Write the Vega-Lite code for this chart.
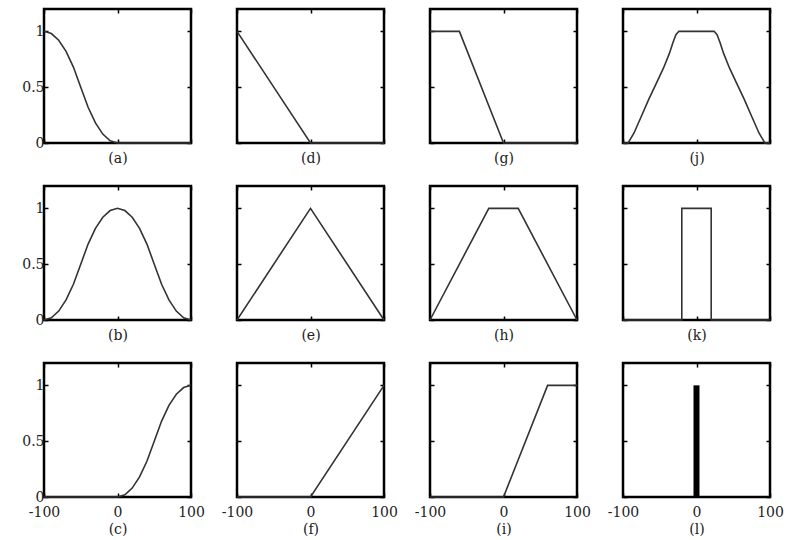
{
  "$schema": "https://vega.github.io/schema/vega-lite/v6.json",
  "background": "white",
  "padding": {"left": 20, "top": 7, "right": 0, "bottom": 5},
  "datasets": {
    "mf": [
      {"p": "a", "x": -100, "y": 1}, {"p": "a", "x": -90, "y": 0.98}, {"p": "a", "x": -80, "y": 0.92}, {"p": "a", "x": -70, "y": 0.82}, {"p": "a", "x": -60, "y": 0.68}, {"p": "a", "x": -50, "y": 0.5}, {"p": "a", "x": -40, "y": 0.32}, {"p": "a", "x": -30, "y": 0.18}, {"p": "a", "x": -20, "y": 0.08}, {"p": "a", "x": -10, "y": 0.02}, {"p": "a", "x": 0, "y": 0}, {"p": "a", "x": 100, "y": 0},
      {"p": "b", "x": -100, "y": 0}, {"p": "b", "x": -90, "y": 0.02}, {"p": "b", "x": -80, "y": 0.08}, {"p": "b", "x": -70, "y": 0.18}, {"p": "b", "x": -60, "y": 0.32}, {"p": "b", "x": -50, "y": 0.5}, {"p": "b", "x": -40, "y": 0.68}, {"p": "b", "x": -30, "y": 0.82}, {"p": "b", "x": -20, "y": 0.92}, {"p": "b", "x": -10, "y": 0.98}, {"p": "b", "x": 0, "y": 1}, {"p": "b", "x": 10, "y": 0.98}, {"p": "b", "x": 20, "y": 0.92}, {"p": "b", "x": 30, "y": 0.82}, {"p": "b", "x": 40, "y": 0.68}, {"p": "b", "x": 50, "y": 0.5}, {"p": "b", "x": 60, "y": 0.32}, {"p": "b", "x": 70, "y": 0.18}, {"p": "b", "x": 80, "y": 0.08}, {"p": "b", "x": 90, "y": 0.02}, {"p": "b", "x": 100, "y": 0},
      {"p": "c", "x": -100, "y": 0}, {"p": "c", "x": 0, "y": 0}, {"p": "c", "x": 10, "y": 0.02}, {"p": "c", "x": 20, "y": 0.08}, {"p": "c", "x": 30, "y": 0.18}, {"p": "c", "x": 40, "y": 0.32}, {"p": "c", "x": 50, "y": 0.5}, {"p": "c", "x": 60, "y": 0.68}, {"p": "c", "x": 70, "y": 0.82}, {"p": "c", "x": 80, "y": 0.92}, {"p": "c", "x": 90, "y": 0.98}, {"p": "c", "x": 100, "y": 1},
      {"p": "d", "x": -100, "y": 1}, {"p": "d", "x": 0, "y": 0}, {"p": "d", "x": 100, "y": 0},
      {"p": "e", "x": -100, "y": 0}, {"p": "e", "x": 0, "y": 1}, {"p": "e", "x": 100, "y": 0},
      {"p": "f", "x": -100, "y": 0}, {"p": "f", "x": 0, "y": 0}, {"p": "f", "x": 100, "y": 1},
      {"p": "g", "x": -100, "y": 1}, {"p": "g", "x": -60, "y": 1}, {"p": "g", "x": 0, "y": 0}, {"p": "g", "x": 100, "y": 0},
      {"p": "h", "x": -100, "y": 0}, {"p": "h", "x": -20, "y": 1}, {"p": "h", "x": 20, "y": 1}, {"p": "h", "x": 100, "y": 0},
      {"p": "i", "x": -100, "y": 0}, {"p": "i", "x": 0, "y": 0}, {"p": "i", "x": 60, "y": 1}, {"p": "i", "x": 100, "y": 1},
      {"p": "j", "x": -100, "y": 0}, {"p": "j", "x": -93, "y": 0}, {"p": "j", "x": -85, "y": 0.09}, {"p": "j", "x": -75, "y": 0.24}, {"p": "j", "x": -65, "y": 0.39}, {"p": "j", "x": -55, "y": 0.53}, {"p": "j", "x": -45, "y": 0.67}, {"p": "j", "x": -37, "y": 0.8}, {"p": "j", "x": -32, "y": 0.9}, {"p": "j", "x": -28, "y": 0.97}, {"p": "j", "x": -24, "y": 1}, {"p": "j", "x": 24, "y": 1}, {"p": "j", "x": 28, "y": 0.97}, {"p": "j", "x": 32, "y": 0.9}, {"p": "j", "x": 37, "y": 0.8}, {"p": "j", "x": 45, "y": 0.67}, {"p": "j", "x": 55, "y": 0.53}, {"p": "j", "x": 65, "y": 0.39}, {"p": "j", "x": 75, "y": 0.24}, {"p": "j", "x": 85, "y": 0.09}, {"p": "j", "x": 93, "y": 0}, {"p": "j", "x": 100, "y": 0},
      {"p": "k", "x": -100, "y": 0}, {"p": "k", "x": -20, "y": 0}, {"p": "k", "x": -20, "y": 1}, {"p": "k", "x": 20, "y": 1}, {"p": "k", "x": 20, "y": 0}, {"p": "k", "x": 100, "y": 0},
      {"p": "l", "x": 0, "y": 0}, {"p": "l", "x": 0, "y": 1}
    ]
  },
  "data": {"name": "mf"},
  "columns": 4,
  "spacing": {"row": 43, "column": 46},
  "bounds": "flush",
  "concat": [
    {"width": 147, "height": 134, "transform": [{"filter": "datum.p == 'a'"}],
     "layer": [
      {"mark": {"type": "line", "color": "#333", "strokeWidth": 1.6},
       "encoding": {
        "x": {"field": "x", "type": "quantitative", "scale": {"domain": [-100, 100], "nice": false}, "axis": {"orient": "bottom", "values": [-100, 0, 100], "labels": false, "title": "(a)"}},
        "y": {"field": "y", "type": "quantitative", "scale": {"domain": [0, 1.2], "nice": false}, "axis": {"orient": "left", "values": [0, 0.5, 1], "labels": true, "title": null}}}},
      {"mark": {"type": "line", "opacity": 0},
       "encoding": {
        "x": {"field": "x", "type": "quantitative", "scale": {"domain": [-100, 100], "nice": false}, "axis": {"orient": "top", "values": [-100, 0, 100], "labels": false, "title": null}},
        "y": {"field": "y", "type": "quantitative", "scale": {"domain": [0, 1.2], "nice": false}, "axis": {"orient": "right", "values": [0, 0.5, 1], "labels": false, "title": null}}}}],
     "resolve": {"axis": {"x": "independent", "y": "independent"}}},
    {"width": 147, "height": 134, "transform": [{"filter": "datum.p == 'd'"}],
     "layer": [
      {"mark": {"type": "line", "color": "#333", "strokeWidth": 1.6},
       "encoding": {
        "x": {"field": "x", "type": "quantitative", "scale": {"domain": [-100, 100], "nice": false}, "axis": {"orient": "bottom", "values": [-100, 0, 100], "labels": false, "title": "(d)"}},
        "y": {"field": "y", "type": "quantitative", "scale": {"domain": [0, 1.2], "nice": false}, "axis": {"orient": "left", "values": [0, 0.5, 1], "labels": false, "title": null}}}},
      {"mark": {"type": "line", "opacity": 0},
       "encoding": {
        "x": {"field": "x", "type": "quantitative", "scale": {"domain": [-100, 100], "nice": false}, "axis": {"orient": "top", "values": [-100, 0, 100], "labels": false, "title": null}},
        "y": {"field": "y", "type": "quantitative", "scale": {"domain": [0, 1.2], "nice": false}, "axis": {"orient": "right", "values": [0, 0.5, 1], "labels": false, "title": null}}}}],
     "resolve": {"axis": {"x": "independent", "y": "independent"}}},
    {"width": 147, "height": 134, "transform": [{"filter": "datum.p == 'g'"}],
     "layer": [
      {"mark": {"type": "line", "color": "#333", "strokeWidth": 1.6},
       "encoding": {
        "x": {"field": "x", "type": "quantitative", "scale": {"domain": [-100, 100], "nice": false}, "axis": {"orient": "bottom", "values": [-100, 0, 100], "labels": false, "title": "(g)"}},
        "y": {"field": "y", "type": "quantitative", "scale": {"domain": [0, 1.2], "nice": false}, "axis": {"orient": "left", "values": [0, 0.5, 1], "labels": false, "title": null}}}},
      {"mark": {"type": "line", "opacity": 0},
       "encoding": {
        "x": {"field": "x", "type": "quantitative", "scale": {"domain": [-100, 100], "nice": false}, "axis": {"orient": "top", "values": [-100, 0, 100], "labels": false, "title": null}},
        "y": {"field": "y", "type": "quantitative", "scale": {"domain": [0, 1.2], "nice": false}, "axis": {"orient": "right", "values": [0, 0.5, 1], "labels": false, "title": null}}}}],
     "resolve": {"axis": {"x": "independent", "y": "independent"}}},
    {"width": 147, "height": 134, "transform": [{"filter": "datum.p == 'j'"}],
     "layer": [
      {"mark": {"type": "line", "color": "#333", "strokeWidth": 1.6},
       "encoding": {
        "x": {"field": "x", "type": "quantitative", "scale": {"domain": [-100, 100], "nice": false}, "axis": {"orient": "bottom", "values": [-100, 0, 100], "labels": false, "title": "(j)"}},
        "y": {"field": "y", "type": "quantitative", "scale": {"domain": [0, 1.2], "nice": false}, "axis": {"orient": "left", "values": [0, 0.5, 1], "labels": false, "title": null}}}},
      {"mark": {"type": "line", "opacity": 0},
       "encoding": {
        "x": {"field": "x", "type": "quantitative", "scale": {"domain": [-100, 100], "nice": false}, "axis": {"orient": "top", "values": [-100, 0, 100], "labels": false, "title": null}},
        "y": {"field": "y", "type": "quantitative", "scale": {"domain": [0, 1.2], "nice": false}, "axis": {"orient": "right", "values": [0, 0.5, 1], "labels": false, "title": null}}}}],
     "resolve": {"axis": {"x": "independent", "y": "independent"}}},
    {"width": 147, "height": 134, "transform": [{"filter": "datum.p == 'b'"}],
     "layer": [
      {"mark": {"type": "line", "color": "#333", "strokeWidth": 1.6},
       "encoding": {
        "x": {"field": "x", "type": "quantitative", "scale": {"domain": [-100, 100], "nice": false}, "axis": {"orient": "bottom", "values": [-100, 0, 100], "labels": false, "title": "(b)"}},
        "y": {"field": "y", "type": "quantitative", "scale": {"domain": [0, 1.2], "nice": false}, "axis": {"orient": "left", "values": [0, 0.5, 1], "labels": true, "title": null}}}},
      {"mark": {"type": "line", "opacity": 0},
       "encoding": {
        "x": {"field": "x", "type": "quantitative", "scale": {"domain": [-100, 100], "nice": false}, "axis": {"orient": "top", "values": [-100, 0, 100], "labels": false, "title": null}},
        "y": {"field": "y", "type": "quantitative", "scale": {"domain": [0, 1.2], "nice": false}, "axis": {"orient": "right", "values": [0, 0.5, 1], "labels": false, "title": null}}}}],
     "resolve": {"axis": {"x": "independent", "y": "independent"}}},
    {"width": 147, "height": 134, "transform": [{"filter": "datum.p == 'e'"}],
     "layer": [
      {"mark": {"type": "line", "color": "#333", "strokeWidth": 1.6},
       "encoding": {
        "x": {"field": "x", "type": "quantitative", "scale": {"domain": [-100, 100], "nice": false}, "axis": {"orient": "bottom", "values": [-100, 0, 100], "labels": false, "title": "(e)"}},
        "y": {"field": "y", "type": "quantitative", "scale": {"domain": [0, 1.2], "nice": false}, "axis": {"orient": "left", "values": [0, 0.5, 1], "labels": false, "title": null}}}},
      {"mark": {"type": "line", "opacity": 0},
       "encoding": {
        "x": {"field": "x", "type": "quantitative", "scale": {"domain": [-100, 100], "nice": false}, "axis": {"orient": "top", "values": [-100, 0, 100], "labels": false, "title": null}},
        "y": {"field": "y", "type": "quantitative", "scale": {"domain": [0, 1.2], "nice": false}, "axis": {"orient": "right", "values": [0, 0.5, 1], "labels": false, "title": null}}}}],
     "resolve": {"axis": {"x": "independent", "y": "independent"}}},
    {"width": 147, "height": 134, "transform": [{"filter": "datum.p == 'h'"}],
     "layer": [
      {"mark": {"type": "line", "color": "#333", "strokeWidth": 1.6},
       "encoding": {
        "x": {"field": "x", "type": "quantitative", "scale": {"domain": [-100, 100], "nice": false}, "axis": {"orient": "bottom", "values": [-100, 0, 100], "labels": false, "title": "(h)"}},
        "y": {"field": "y", "type": "quantitative", "scale": {"domain": [0, 1.2], "nice": false}, "axis": {"orient": "left", "values": [0, 0.5, 1], "labels": false, "title": null}}}},
      {"mark": {"type": "line", "opacity": 0},
       "encoding": {
        "x": {"field": "x", "type": "quantitative", "scale": {"domain": [-100, 100], "nice": false}, "axis": {"orient": "top", "values": [-100, 0, 100], "labels": false, "title": null}},
        "y": {"field": "y", "type": "quantitative", "scale": {"domain": [0, 1.2], "nice": false}, "axis": {"orient": "right", "values": [0, 0.5, 1], "labels": false, "title": null}}}}],
     "resolve": {"axis": {"x": "independent", "y": "independent"}}},
    {"width": 147, "height": 134, "transform": [{"filter": "datum.p == 'k'"}],
     "layer": [
      {"mark": {"type": "line", "color": "#333", "strokeWidth": 1.6},
       "encoding": {
        "x": {"field": "x", "type": "quantitative", "scale": {"domain": [-100, 100], "nice": false}, "axis": {"orient": "bottom", "values": [-100, 0, 100], "labels": false, "title": "(k)"}},
        "y": {"field": "y", "type": "quantitative", "scale": {"domain": [0, 1.2], "nice": false}, "axis": {"orient": "left", "values": [0, 0.5, 1], "labels": false, "title": null}}}},
      {"mark": {"type": "line", "opacity": 0},
       "encoding": {
        "x": {"field": "x", "type": "quantitative", "scale": {"domain": [-100, 100], "nice": false}, "axis": {"orient": "top", "values": [-100, 0, 100], "labels": false, "title": null}},
        "y": {"field": "y", "type": "quantitative", "scale": {"domain": [0, 1.2], "nice": false}, "axis": {"orient": "right", "values": [0, 0.5, 1], "labels": false, "title": null}}}}],
     "resolve": {"axis": {"x": "independent", "y": "independent"}}},
    {"width": 147, "height": 134, "transform": [{"filter": "datum.p == 'c'"}],
     "layer": [
      {"mark": {"type": "line", "color": "#333", "strokeWidth": 1.6},
       "encoding": {
        "x": {"field": "x", "type": "quantitative", "scale": {"domain": [-100, 100], "nice": false}, "axis": {"orient": "bottom", "values": [-100, 0, 100], "labels": true, "labelPadding": 12, "title": "(c)", "titlePadding": 3}},
        "y": {"field": "y", "type": "quantitative", "scale": {"domain": [0, 1.2], "nice": false}, "axis": {"orient": "left", "values": [0, 0.5, 1], "labels": true, "title": null}}}},
      {"mark": {"type": "line", "opacity": 0},
       "encoding": {
        "x": {"field": "x", "type": "quantitative", "scale": {"domain": [-100, 100], "nice": false}, "axis": {"orient": "top", "values": [-100, 0, 100], "labels": false, "title": null}},
        "y": {"field": "y", "type": "quantitative", "scale": {"domain": [0, 1.2], "nice": false}, "axis": {"orient": "right", "values": [0, 0.5, 1], "labels": false, "title": null}}}}],
     "resolve": {"axis": {"x": "independent", "y": "independent"}}},
    {"width": 147, "height": 134, "transform": [{"filter": "datum.p == 'f'"}],
     "layer": [
      {"mark": {"type": "line", "color": "#333", "strokeWidth": 1.6},
       "encoding": {
        "x": {"field": "x", "type": "quantitative", "scale": {"domain": [-100, 100], "nice": false}, "axis": {"orient": "bottom", "values": [-100, 0, 100], "labels": true, "labelPadding": 12, "title": "(f)", "titlePadding": 3}},
        "y": {"field": "y", "type": "quantitative", "scale": {"domain": [0, 1.2], "nice": false}, "axis": {"orient": "left", "values": [0, 0.5, 1], "labels": false, "title": null}}}},
      {"mark": {"type": "line", "opacity": 0},
       "encoding": {
        "x": {"field": "x", "type": "quantitative", "scale": {"domain": [-100, 100], "nice": false}, "axis": {"orient": "top", "values": [-100, 0, 100], "labels": false, "title": null}},
        "y": {"field": "y", "type": "quantitative", "scale": {"domain": [0, 1.2], "nice": false}, "axis": {"orient": "right", "values": [0, 0.5, 1], "labels": false, "title": null}}}}],
     "resolve": {"axis": {"x": "independent", "y": "independent"}}},
    {"width": 147, "height": 134, "transform": [{"filter": "datum.p == 'i'"}],
     "layer": [
      {"mark": {"type": "line", "color": "#333", "strokeWidth": 1.6},
       "encoding": {
        "x": {"field": "x", "type": "quantitative", "scale": {"domain": [-100, 100], "nice": false}, "axis": {"orient": "bottom", "values": [-100, 0, 100], "labels": true, "labelPadding": 12, "title": "(i)", "titlePadding": 3}},
        "y": {"field": "y", "type": "quantitative", "scale": {"domain": [0, 1.2], "nice": false}, "axis": {"orient": "left", "values": [0, 0.5, 1], "labels": false, "title": null}}}},
      {"mark": {"type": "line", "opacity": 0},
       "encoding": {
        "x": {"field": "x", "type": "quantitative", "scale": {"domain": [-100, 100], "nice": false}, "axis": {"orient": "top", "values": [-100, 0, 100], "labels": false, "title": null}},
        "y": {"field": "y", "type": "quantitative", "scale": {"domain": [0, 1.2], "nice": false}, "axis": {"orient": "right", "values": [0, 0.5, 1], "labels": false, "title": null}}}}],
     "resolve": {"axis": {"x": "independent", "y": "independent"}}},
    {"width": 147, "height": 134, "transform": [{"filter": "datum.p == 'l'"}],
     "layer": [
      {"mark": {"type": "line", "color": "black", "strokeWidth": 6, "strokeCap": "butt"},
       "encoding": {
        "x": {"field": "x", "type": "quantitative", "scale": {"domain": [-100, 100], "nice": false}, "axis": {"orient": "bottom", "values": [-100, 0, 100], "labels": true, "labelPadding": 12, "title": "(l)", "titlePadding": 3}},
        "y": {"field": "y", "type": "quantitative", "scale": {"domain": [0, 1.2], "nice": false}, "axis": {"orient": "left", "values": [0, 0.5, 1], "labels": false, "title": null}}}},
      {"mark": {"type": "line", "opacity": 0},
       "encoding": {
        "x": {"field": "x", "type": "quantitative", "scale": {"domain": [-100, 100], "nice": false}, "axis": {"orient": "top", "values": [-100, 0, 100], "labels": false, "title": null}},
        "y": {"field": "y", "type": "quantitative", "scale": {"domain": [0, 1.2], "nice": false}, "axis": {"orient": "right", "values": [0, 0.5, 1], "labels": false, "title": null}}}}],
     "resolve": {"axis": {"x": "independent", "y": "independent"}}}
  ],
  "config": {
    "view": {"stroke": "black", "strokeWidth": 2.5},
    "axis": {
      "domain": false,
      "grid": false,
      "tickColor": "black",
      "tickWidth": 1.5,
      "tickSize": -4,
      "labelExpr": "'' + datum.value",
      "labelFont": "DejaVu Serif",
      "labelFontSize": 14,
      "labelColor": "#222",
      "labelPadding": 4,
      "labelFlush": false,
      "labelOverlap": false,
      "labelBound": false,
      "titleFont": "DejaVu Serif",
      "titleFontSize": 14,
      "titleFontWeight": "normal",
      "titleColor": "#222",
      "titlePadding": 8
    }
  }
}
